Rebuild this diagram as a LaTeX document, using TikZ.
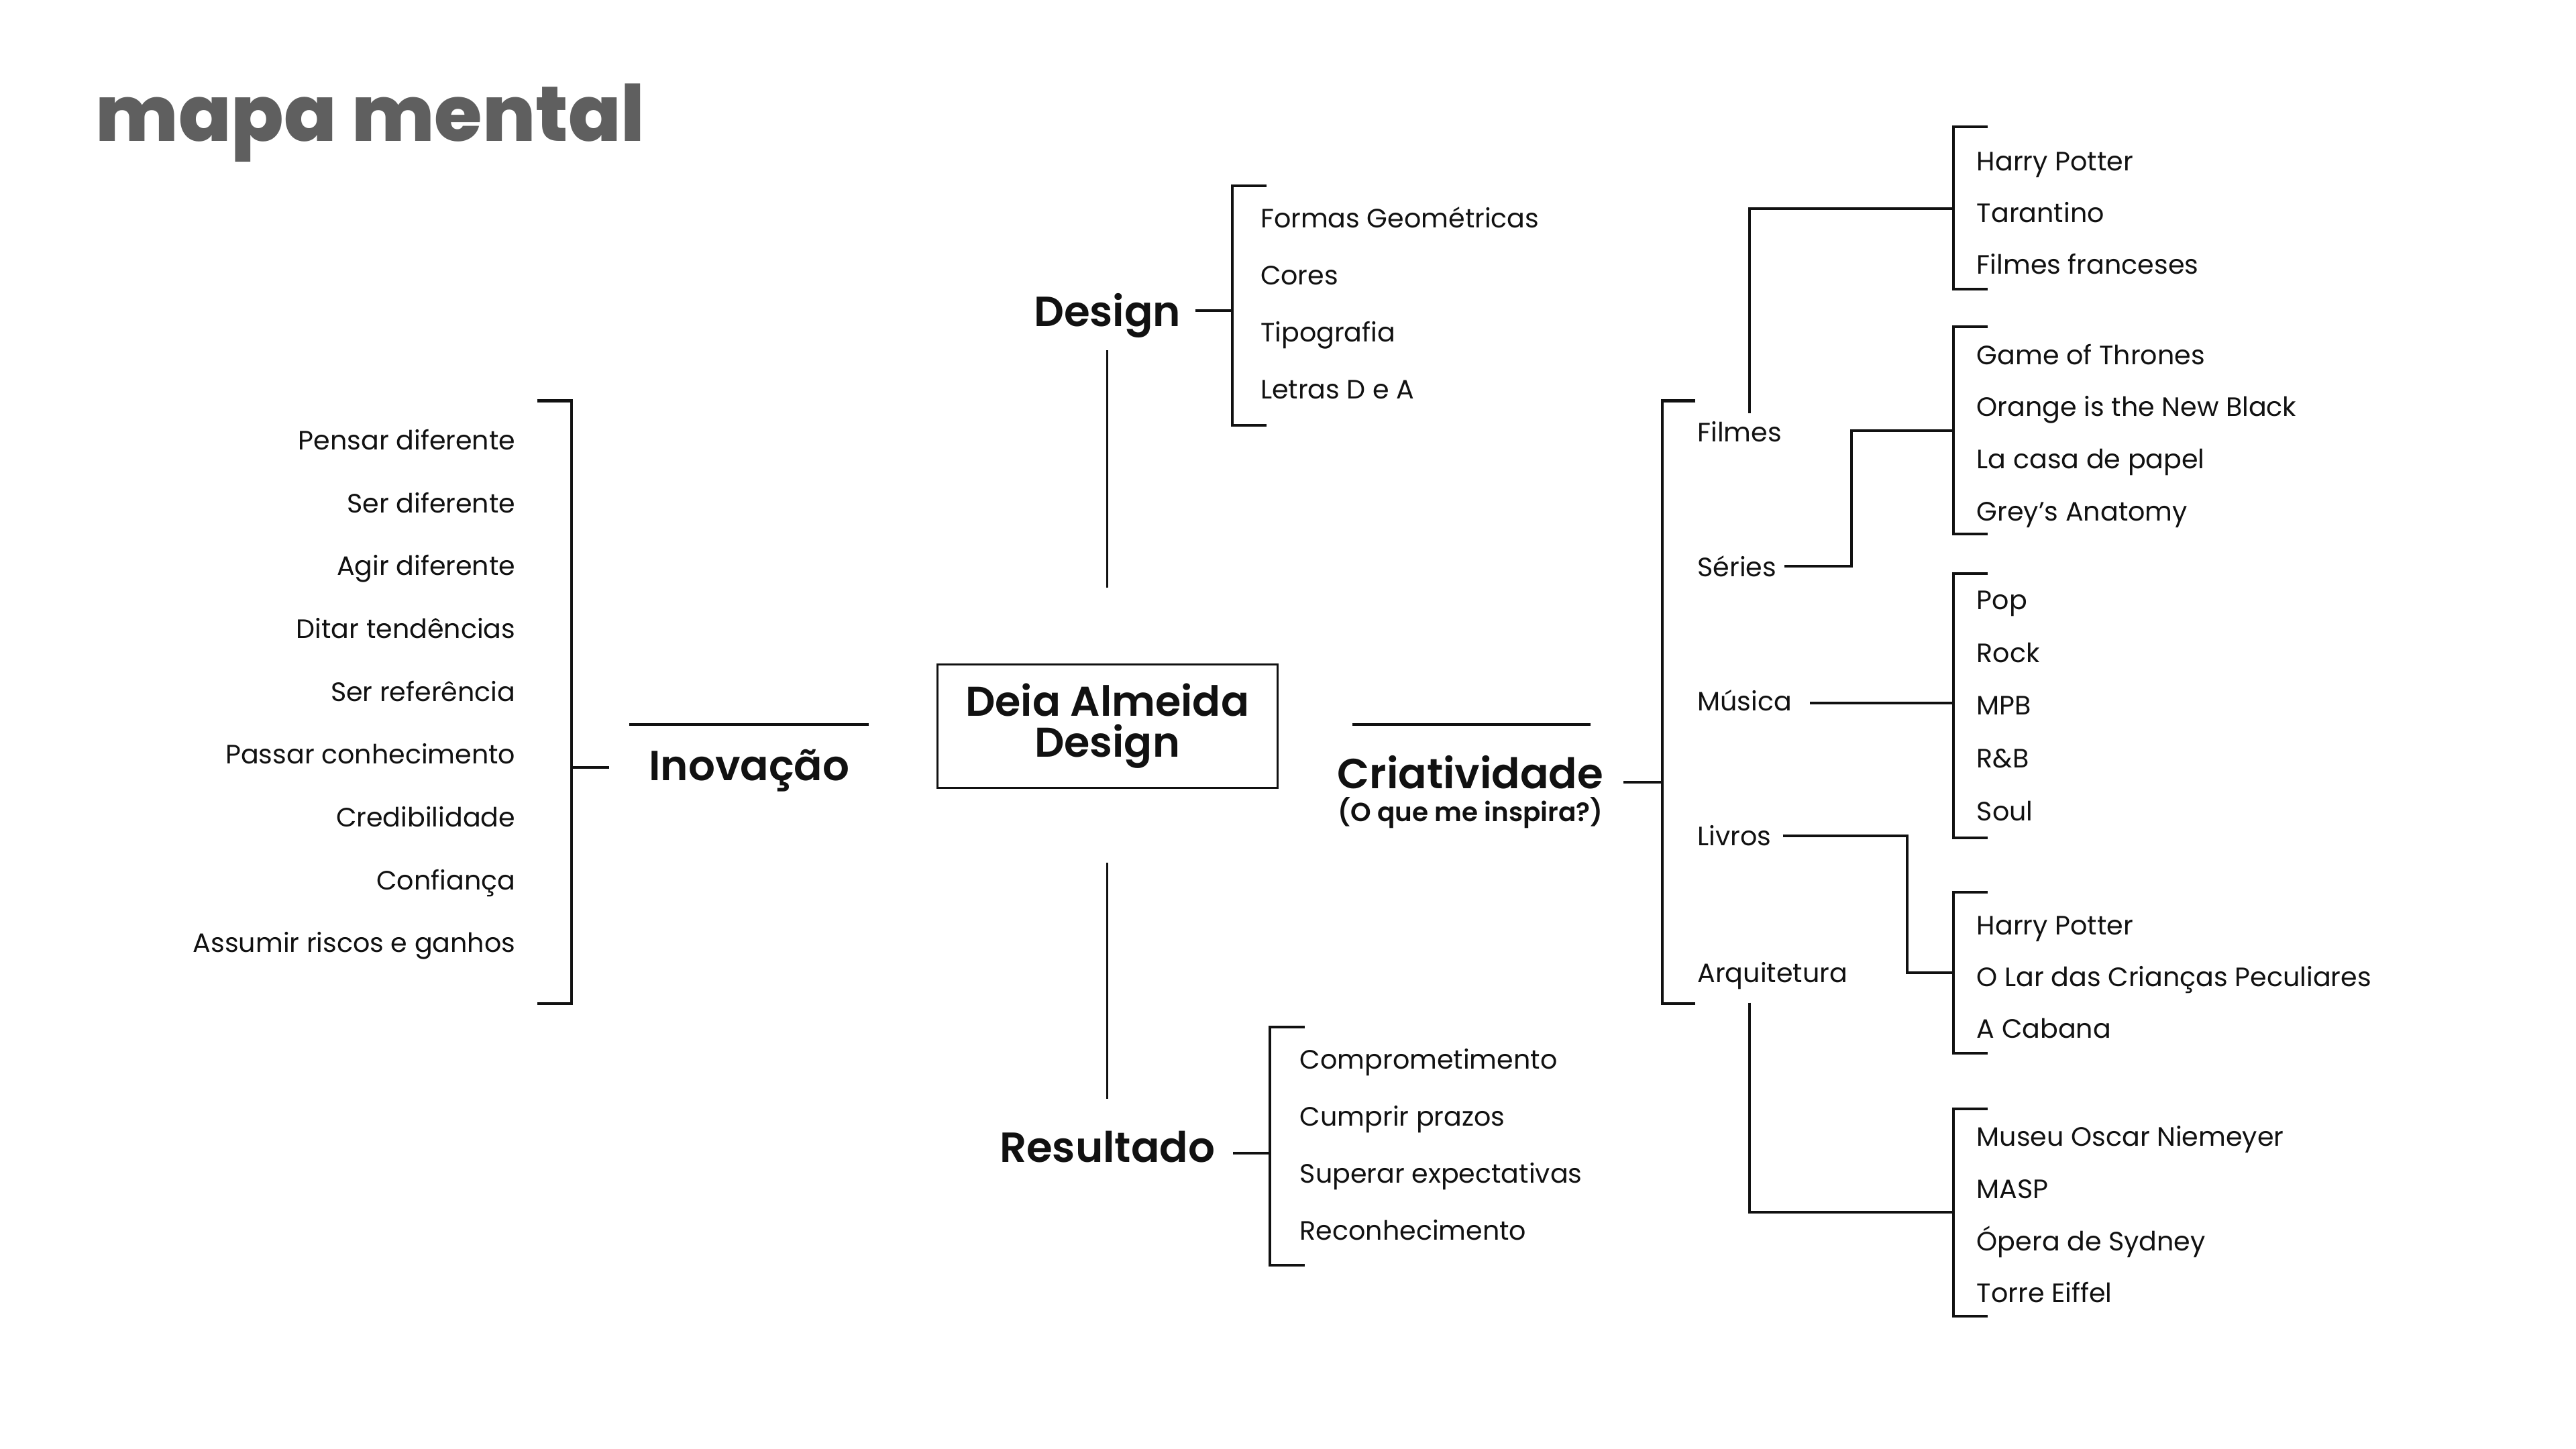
\documentclass[tikz,border=0pt]{standalone}
\usepackage{fontspec}
\setmainfont{Poppins}
\newfontfamily\titlefont{Poppins ExtraBold}
\newfontfamily\headfont{Poppins SemiBold}
\usetikzlibrary{positioning}
\definecolor{mapgray}{HTML}{5F5F5F}
\definecolor{mapink}{HTML}{111111}
% bracket: x, top, bottom, signed tick length
\newcommand{\mapbracket}[4]{%
  \draw[rule] ({#1+#4},#2) -- (#1,#2) -- (#1,#3) -- ({#1+#4},#3);}

\begin{document}
\begin{tikzpicture}[x=0.025cm, y=-0.025cm, every node/.style={text=mapink},
  item/.style={inner sep=0pt, yshift=-1.4pt, font=\fontsize{11.5}{13}\selectfont},
  head/.style={inner sep=0pt, font=\headfont\fontsize{18.2}{19}\selectfont},
  core/.style={draw=mapink, line width=0.9pt, minimum width=5.175cm, minimum height=1.875cm, align=center, font=\headfont\fontsize{18}{17.7}\selectfont},
  link/.style={draw=mapink, line width=0.9pt},
  rule/.style={draw=mapink, line width=1.2pt}
]
\fill[white] (0,0) rectangle (1568,882);
\useasboundingbox (0,0) rectangle (1568,882);

\node[anchor=base west, inner sep=0pt, text=mapgray, font=\titlefont\fontsize{33.6}{38}\selectfont] (title) at (58,86) {mapa mental};

% centre
\node[core] (core) at (674,442) {Deia Almeida\\Design};

% design
\node[head] (design) at (674,192) {Design};
\draw[link, shorten <=1.15cm, shorten >=0.525cm] (core.north) -- (core.north |- design);
\mapbracket{750}{113}{259}{21}
\coordinate (dsg-br) at (750,189);
\draw[rule, shorten <=0.22cm] (design.east |- dsg-br) -- (dsg-br);
\foreach \txt [count=\i] in {Formas Geométricas, Cores, Tipografia, Letras D e A}
  \node[item, anchor=mid west] (dsg\i) at (767,{133+34.7*(\i-1)}) {\txt};

% resultado
\node[head] (result) at (674,698) {Resultado};
\draw[link, shorten <=1.125cm, shorten >=0.725cm] (core.south) -- (core.south |- result);
\mapbracket{773}{625}{770}{21}
\coordinate (res-br) at (773,702);
\draw[rule, shorten <=0.27cm] (result.east |- res-br) -- (res-br);
\foreach \txt [count=\i] in {Comprometimento, Cumprir prazos, Superar expectativas, Reconhecimento}
  \node[item, anchor=mid west] (res\i) at (791,{645+34.7*(\i-1)}) {\txt};

% inovacao
\coordinate (ino-bar) at (383,441);
\draw[link, shorten <=1.025cm] (core.west |- ino-bar) -- (ino-bar);
\node[head] (ino) at (456,469) {Inovação};
\mapbracket{348}{244}{611}{-21}
\coordinate (ino-br) at (348,467);
\draw[rule, shorten <=0.6cm] (ino.west |- ino-br) -- (ino-br);
\foreach \txt [count=\i] in {Pensar diferente, Ser diferente, Agir diferente, Ditar tendências, Ser referência, Passar conhecimento, Credibilidade, Confiança, Assumir riscos e ganhos}
  \node[item, anchor=mid east] (ino\i) at (314,{268+38.25*(\i-1)}) {\txt};

% criatividade
\coordinate (crt-bar) at (968,441);
\draw[link, shorten <=1.125cm] (core.east |- crt-bar) -- (crt-bar);
\node[head] (crt) at (895,470) {Criatividade};
\node[inner sep=0pt, font=\headfont\fontsize{11.3}{12}\selectfont, below=0.12cm of crt] (crt-sub) {(O que me inspira?)};
\mapbracket{1012}{244}{611}{20}
\coordinate (crt-br) at (1012,476);
\draw[rule, shorten <=0.3cm] (crt.east |- crt-br) -- (crt-br);
\node[item, anchor=mid west] (flm) at (1033,263) {Filmes};
\node[item, anchor=mid west] (ser) at (1033,345) {Séries};
\node[item, anchor=mid west] (mus) at (1033,427) {Música};
\node[item, anchor=mid west] (liv) at (1033,509) {Livros};
\node[item, anchor=mid west] (arq) at (1033,592) {Arquitetura};
\coordinate (trunk) at (1065,0);

% filmes
\mapbracket{1189}{77}{176}{21}
\coordinate (flm-br) at (1189,127);
\draw[rule, shorten <=0.12cm] (flm.north -| trunk) |- (flm-br);
\foreach \txt [count=\i] in {Harry Potter, Tarantino, Filmes franceses}
  \node[item, anchor=mid west] (flm\i) at (1203,{98+31.5*(\i-1)}) {\txt};

% series
\mapbracket{1189}{199}{325}{21}
\coordinate (ser-br) at (1189,262);
\draw[rule, shorten <=0.12cm] (ser.east) -| ([xshift=-1.55cm]ser-br) -- (ser-br);
\foreach \txt [count=\i] in {Game of Thrones, Orange is the New Black, La casa de papel, Grey's Anatomy}
  \node[item, anchor=mid west] (ser\i) at (1203,{216+31.7*(\i-1)}) {\txt};

% musica
\mapbracket{1189}{349}{510}{21}
\coordinate (mus-br) at (1189,428);
\draw[rule, shorten <=0.27cm] (mus.east |- mus-br) -- (mus-br);
\foreach \txt [count=\i] in {Pop, Rock, MPB, R\&B, Soul}
  \node[item, anchor=mid west] (mus\i) at (1203,{365+32.2*(\i-1)}) {\txt};

% livros
\mapbracket{1189}{543}{641}{21}
\coordinate (liv-br) at (1189,592);
\draw[rule, shorten <=0.17cm] (liv.east) -| ([xshift=-0.7cm]liv-br) -- (liv-br);
\foreach \txt [count=\i] in {Harry Potter, O Lar das Crianças Peculiares, A Cabana}
  \node[item, anchor=mid west] (liv\i) at (1203,{563+31.5*(\i-1)}) {\txt};

% arquitetura
\mapbracket{1189}{675}{801}{21}
\coordinate (arq-br) at (1189,738);
\draw[rule, shorten <=0.2cm] (arq.south -| trunk) |- (arq-br);
\foreach \txt [count=\i] in {Museu Oscar Niemeyer, MASP, Ópera de Sydney, Torre Eiffel}
  \node[item, anchor=mid west] (arq\i) at (1203,{692+31.7*(\i-1)}) {\txt};
\end{tikzpicture}
\end{document}
